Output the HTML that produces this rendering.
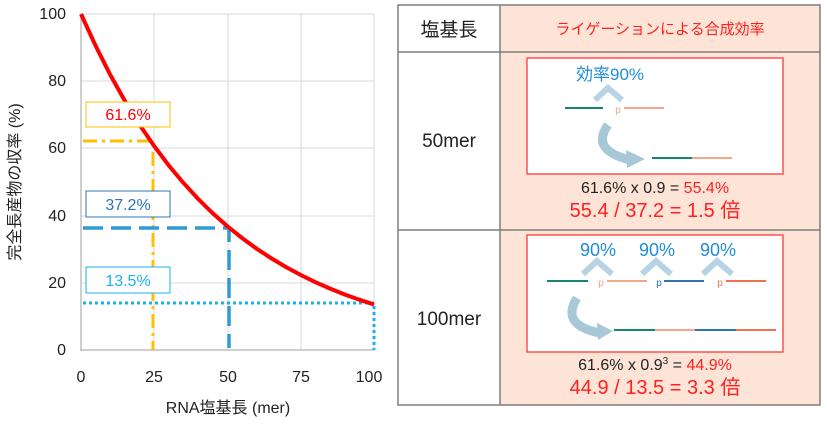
<!DOCTYPE html>
<html><head><meta charset="utf-8"><style>
body{margin:0;width:827px;height:421px;background:#fff;overflow:hidden;font-family:"Liberation Sans","Noto Sans CJK JP",sans-serif}
</style></head><body>
<svg width="827" height="421" xmlns="http://www.w3.org/2000/svg" font-family="Liberation Sans, Noto Sans CJK JP, sans-serif">
<g stroke="#d9d9d9" stroke-width="1">
<line x1="81" y1="14" x2="374" y2="14"/><line x1="81" y1="81" x2="374" y2="81"/><line x1="81" y1="148" x2="374" y2="148"/><line x1="81" y1="216" x2="374" y2="216"/><line x1="81" y1="283" x2="374" y2="283"/>
<line x1="154" y1="14" x2="154" y2="350"/><line x1="228" y1="14" x2="228" y2="350"/><line x1="301" y1="14" x2="301" y2="350"/><line x1="374" y1="14" x2="374" y2="350"/>
</g>
<line x1="81" y1="14" x2="81" y2="351" stroke="#bfbfbf" stroke-width="1.5"/>
<line x1="80" y1="350" x2="374" y2="350" stroke="#bfbfbf" stroke-width="1.5"/>
<g font-size="16" fill="#222" text-anchor="end">
<text x="66" y="19">100</text><text x="66" y="86">80</text><text x="66" y="153">60</text><text x="66" y="221">40</text><text x="66" y="288">20</text><text x="66" y="355">0</text>
</g>
<g font-size="16" fill="#222" text-anchor="middle">
<text x="81" y="382">0</text><text x="154" y="382">25</text><text x="228" y="382">50</text><text x="301" y="382">75</text><text x="369" y="382">100</text>
<text x="228" y="413">RNA塩基長 (mer)</text>
</g>
<text transform="translate(20,182) rotate(-90)" font-size="16" fill="#222" text-anchor="middle">完全長産物の収率 (%)</text>
<polyline points="83,141 153,141 153,350" fill="none" stroke="#ffc000" stroke-width="3" stroke-dasharray="14,5,3,5"/>
<polyline points="83,228 229,228 229,348" fill="none" stroke="#2e9ad6" stroke-width="3.5" stroke-dasharray="20,8"/>
<polyline points="83,303 374,303 374,350" fill="none" stroke="#1ab0f0" stroke-width="3" stroke-dasharray="3,3"/>
<path fill="none" stroke="#ff0000" stroke-width="4" d="M81,14 L95.7,46 L110.3,74.9 L125,101.1 L139.6,124.8 L154.3,146.2 L168.9,165.6 L183.6,183.1 L198.2,199 L212.9,213.4 L227.5,226.4 L242.2,238.1 L256.8,248.8 L271.5,258.4 L286.1,267.1 L300.8,275 L315.4,282.2 L330.1,288.6 L344.7,294.5 L359.4,299.7 L374,304.5"/>
<rect x="86" y="102" width="84" height="25" fill="#fff" stroke="#ffc000" stroke-width="1"/>
<text x="128" y="120" font-size="16" fill="#ff0000" text-anchor="middle">61.6%</text>
<rect x="86" y="191" width="84" height="26" fill="#fff" stroke="#2e75b6" stroke-width="1"/>
<text x="128" y="210" font-size="16" fill="#2e75b6" text-anchor="middle">37.2%</text>
<rect x="86" y="267" width="84" height="26" fill="#fff" stroke="#1ab0f0" stroke-width="1"/>
<text x="128" y="286" font-size="16" fill="#1ab0f0" text-anchor="middle">13.5%</text>

<rect x="500" y="5" width="320" height="400" fill="#fde4d6"/>
<g stroke="#7f7f7f" stroke-width="1.5" fill="none">
<rect x="398" y="5" width="422" height="400"/>
<line x1="500" y1="5" x2="500" y2="405"/>
<line x1="398" y1="52" x2="820" y2="52"/>
<line x1="398" y1="230" x2="820" y2="230"/>
</g>
<text x="449" y="36" font-size="19" fill="#222" text-anchor="middle">塩基長</text>
<text x="660" y="34" font-size="15" fill="#ff2020" text-anchor="middle">ライゲーションによる合成効率</text>
<text x="449" y="147" font-size="19" fill="#222" text-anchor="middle">50mer</text>
<text x="449" y="325" font-size="19" fill="#222" text-anchor="middle">100mer</text>
<rect x="527" y="58" width="256" height="116" fill="#fff" stroke="#ff5050" stroke-width="1.5"/>
<text x="610" y="80" font-size="17" fill="#1f8dd6" text-anchor="middle">効率90%</text>
<path d="M595,100 L608,88 L622,100" fill="none" stroke="#b8d4e4" stroke-width="6"/>
<line x1="565" y1="108" x2="603" y2="108" stroke="#17866a" stroke-width="2"/>
<text x="618" y="113" font-size="10" fill="#f4a58a" text-anchor="middle">p</text>
<line x1="624" y1="108" x2="664" y2="108" stroke="#f4a58a" stroke-width="2"/>
<path d="M608,125 Q590,150 630,160" fill="none" stroke="#a8c8d8" stroke-width="9"/>
<polygon points="626,150 645,159 627,168" fill="#a8c8d8"/>
<line x1="652" y1="158" x2="692" y2="158" stroke="#17866a" stroke-width="2"/>
<line x1="692" y1="158" x2="732" y2="158" stroke="#f4a58a" stroke-width="2"/>
<text x="655" y="193" font-size="16" text-anchor="middle"><tspan fill="#222">61.6% x 0.9 = </tspan><tspan fill="#ff2020">55.4%</tspan></text>
<text x="655" y="217" font-size="20" fill="#ff2020" text-anchor="middle">55.4 / 37.2 = 1.5 倍</text>
<rect x="527" y="235" width="256" height="117" fill="#fff" stroke="#ff5050" stroke-width="1.5"/>
<g font-size="18" fill="#1f8dd6" text-anchor="middle"><text x="598" y="256">90%</text><text x="657" y="256">90%</text><text x="718" y="256">90%</text></g>
<g fill="none" stroke="#b8d4e4" stroke-width="6">
<path d="M583,274 L597,261 L612,274"/><path d="M642,274 L656,261 L671,274"/><path d="M703,274 L717,261 L732,274"/></g>
<line x1="547" y1="281" x2="588" y2="281" stroke="#17866a" stroke-width="2"/>
<text x="601" y="286" font-size="10" fill="#f4a58a" text-anchor="middle">p</text>
<line x1="607" y1="281" x2="647" y2="281" stroke="#f4a58a" stroke-width="2"/>
<text x="659" y="286" font-size="10" fill="#2e75b6" text-anchor="middle">p</text>
<line x1="664" y1="281" x2="704" y2="281" stroke="#2e75b6" stroke-width="2"/>
<text x="720" y="286" font-size="10" fill="#f07050" text-anchor="middle">p</text>
<line x1="726" y1="281" x2="766" y2="281" stroke="#f07050" stroke-width="2"/>
<path d="M577,298 Q560,325 600,333" fill="none" stroke="#a8c8d8" stroke-width="9"/>
<polygon points="597,323 613,331 598,340" fill="#a8c8d8"/>
<line x1="614" y1="330" x2="655" y2="330" stroke="#17866a" stroke-width="2"/>
<line x1="655" y1="330" x2="695" y2="330" stroke="#f4a58a" stroke-width="2"/>
<line x1="695" y1="330" x2="736" y2="330" stroke="#2e75b6" stroke-width="2"/>
<line x1="736" y1="330" x2="776" y2="330" stroke="#f07050" stroke-width="2"/>
<text x="655" y="370" font-size="16" text-anchor="middle"><tspan fill="#222">61.6% x 0.9</tspan><tspan fill="#222" font-size="10" dy="-6">3</tspan><tspan fill="#222" dy="6"> = </tspan><tspan fill="#ff2020">44.9%</tspan></text>
<text x="655" y="394" font-size="20" fill="#ff2020" text-anchor="middle">44.9 / 13.5 = 3.3 倍</text>
</svg>
</body></html>
